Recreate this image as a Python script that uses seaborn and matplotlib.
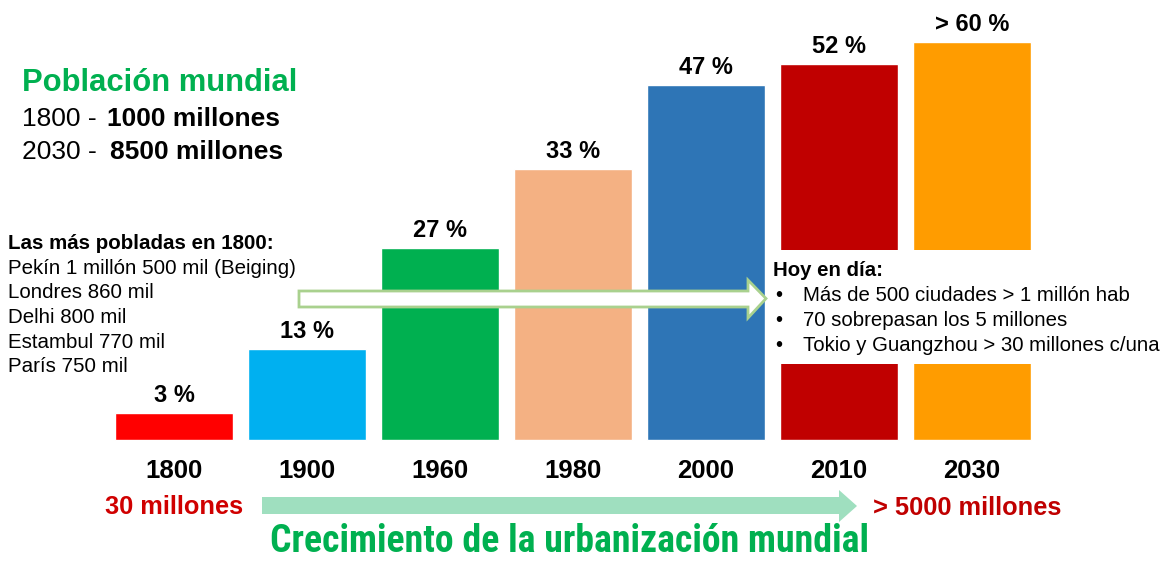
import pandas as pd
import matplotlib.pyplot as plt
import seaborn as sns
from matplotlib.patches import Polygon, Rectangle

# datos
years = ["1800", "1900", "1960", "1980", "2000", "2010", "2030"]
pct_labels = ["3 %", "13 %", "27 %", "33 %", "47 %", "52 %", "> 60 %"]
# alturas (no proporcionales a los porcentajes)
bar_height = [4.1, 13.7, 29.0, 40.9, 53.5, 56.7, 60.0]
bar_colors = ["#ff0000", "#00b0f0", "#00b050", "#f4b183", "#2e75b6", "#c00000", "#ff9c00"]

poblacion = [("1800 - ", "1000 millones"), ("2030 - ", "8500 millones")]
ciudades_1800 = ["Pekín 1 millón 500 mil (Beiging)", "Londres 860 mil", "Delhi 800 mil",
                 "Estambul 770 mil", "París 750 mil"]
hoy_en_dia = ["Más de 500 ciudades > 1 millón hab", "70 sobrepasan los 5 millones",
              "Tokio y Guangzhou > 30 millones c/una"]

df = pd.DataFrame({"year": years, "height": bar_height, "label": pct_labels})

sns.set_style("white")
plt.rcParams["font.family"] = ["Liberation Sans", "DejaVu Sans"]
plt.rcParams["text.color"] = "black"

fig = plt.figure(figsize=(11.69, 5.62), dpi=100)
ax = fig.add_axes([0, 0, 1, 1])
sns.barplot(data=df, x="year", y="height", hue="year", order=years,
            palette=dict(zip(years, bar_colors)), width=0.887,
            legend=False, saturation=1, ax=ax)
ax.set_xlim(-1.308, 7.481)
ax.set_ylim(-18.40, 66.36)
ax.axis("off")

for i, row in df.iterrows():
    ax.text(i, row["height"] + 1.65, row["label"], ha="center", va="baseline",
            fontsize=17, fontweight="bold")
    ax.text(i, -5.73, row["year"], ha="center", va="baseline",
            fontsize=18.5, fontweight="bold")

# capa superior en píxeles
ov = fig.add_axes([0, 0, 1, 1])
ov.set_xlim(0, 1169)
ov.set_ylim(562, 0)
ov.axis("off")
ov.patch.set_visible(False)

ov.text(22, 91, "Población mundial", color="#00b050", fontsize=22.3,
        fontweight="bold", va="baseline")
for k, (a, b) in enumerate(poblacion):
    yb = 126 + 33 * k
    ov.text(22, yb, a, fontsize=19, va="baseline")
    ov.text(107 + 3 * k, yb, b, fontsize=19, fontweight="bold", va="baseline")

ov.text(8, 249, "Las más pobladas en 1800:", fontsize=14.8, fontweight="bold", va="baseline")
for k, line in enumerate(ciudades_1800):
    ov.text(8, 273.5 + 24.7 * k, line, fontsize=14.8, va="baseline")

# caja blanca sobre las barras 2010 / 2030
ov.add_patch(Rectangle((768, 250), 401, 114, facecolor="white", edgecolor="none", zorder=2))
ov.text(773, 276, "Hoy en día:", fontsize=14.7, fontweight="bold", va="baseline", zorder=3)
for k, line in enumerate(hoy_en_dia):
    yb = 301 + 25 * k
    ov.text(775, yb, "•", fontsize=14.7, va="baseline", zorder=3)
    ov.text(803, yb, line, fontsize=14.7, va="baseline", zorder=3)

# flecha hueca
ov.add_patch(Polygon([(299, 291), (748, 291), (748, 280), (766, 298.5), (748, 318),
                      (748, 307), (299, 307)], closed=True, facecolor="white",
                     edgecolor="#a9d18e", linewidth=2, zorder=2))

# flecha inferior
ov.add_patch(Polygon([(262, 497), (839, 497), (839, 490), (857, 506), (839, 522),
                      (839, 514), (262, 514)], closed=True, facecolor="#9fdfbf",
                     edgecolor="none", zorder=2))

ov.text(105, 514, "30 millones", color="#d00000", fontsize=18.3, fontweight="bold", va="baseline")
ov.text(873, 515, "> 5000 millones", color="#c00000", fontsize=18.3, fontweight="bold", va="baseline")

title = ov.text(270, 560, "Crecimiento de la urbanización mundial", color="#00b050",
                fontsize=27, fontweight="bold", va="bottom",
                family=["Liberation Sans Narrow", "Roboto Condensed", "Arimo Narrow",
                        "Archivo Narrow", "Liberation Sans"])
# ajustar el tamaño para que ocupe ~595 px de ancho (sin pasar de 27.5 pt)
fig.canvas.draw()
w = title.get_window_extent().width
if w > 0:
    title.set_fontsize(min(27 * 598 / w, 27.5))

fig.savefig("out.png", dpi=100)
plt.close(fig)
